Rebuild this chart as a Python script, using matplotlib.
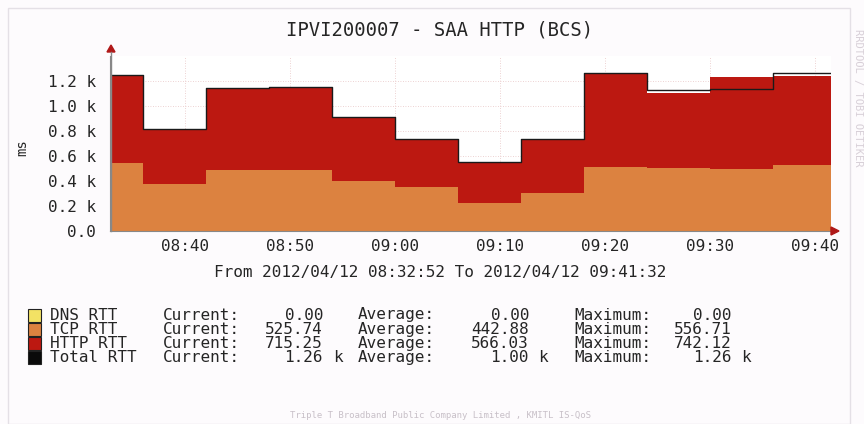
import matplotlib
matplotlib.use('Agg')
import matplotlib.pyplot as plt
import matplotlib.dates as mdates
from matplotlib.patches import Rectangle
import pandas as pd

# step start times (6 min RRD steps) and values in ms
step_times = ['08:32:52', '08:36:00', '08:42:00', '08:48:00', '08:54:00', '09:00:00',
              '09:06:00', '09:12:00', '09:18:00', '09:24:00', '09:30:00', '09:36:00']
end_time = '09:41:32'
tcp_rtt = [545, 373, 487, 487, 399, 354, 221, 306, 508, 500, 492, 526]
http_rtt = [700, 439, 652, 665, 513, 378, 327, 426, 742, 599, 735, 715]
total_rtt = [1245, 812, 1139, 1152, 912, 732, 548, 732, 1263, 1125, 1131, 1263]
dns_rtt = [0] * 12

y_ticks = [0, 200, 400, 600, 800, 1000, 1200]
y_labels = ['0.0', '0.2 k', '0.4 k', '0.6 k', '0.8 k', '1.0 k', '1.2 k']

legend_names = ['DNS RTT', 'TCP RTT', 'HTTP RTT', 'Total RTT']
legend_colors = ['#f3e264', '#dc8240', '#bc1811', '#0a0a0a']
cur_vals = ['0.00', '525.74', '715.25', '1.26']
avg_vals = ['0.00', '442.88', '566.03', '1.00']
max_vals = ['0.00', '556.71', '742.12', '1.26']
units = ['', '', '', 'k']

day = '2012-04-12 '
t = pd.to_datetime([day + s for s in step_times] + [day + end_time])

W, H = 864, 424
mono = 'DejaVu Sans Mono'
txt = '#252525'


def fp(x, y):
    return x / W, 1 - y / H


fig = plt.figure(figsize=(W / 100, H / 100), dpi=100, facecolor='#fdfbfd')
ax = fig.add_axes([110 / W, 1 - 231 / H, (831 - 110) / W, (231 - 55.6) / H])
ax.set_facecolor('white')

tcp = tcp_rtt + [tcp_rtt[-1]]
top = [a + b for a, b in zip(tcp_rtt, http_rtt)]
top = top + [top[-1]]
tot = total_rtt + [total_rtt[-1]]

ax.fill_between(t, 0, tcp, step='post', color=legend_colors[1], lw=0, zorder=2)
ax.fill_between(t, tcp, top, step='post', color=legend_colors[2], lw=0, zorder=2)
ax.step(t, tot, where='post', color='#1a1a1a', lw=1.0, zorder=3)

ax.set_xlim(t[0], t[-1])
ax.set_ylim(0, 1400)
ax.set_yticks(y_ticks)
ax.set_yticklabels(y_labels)
ax.xaxis.set_major_locator(mdates.MinuteLocator(byminute=[0, 10, 20, 30, 40, 50]))
ax.xaxis.set_major_formatter(mdates.DateFormatter('%H:%M'))
ax.tick_params(axis='both', length=0, labelsize=11.5, labelcolor=txt, pad=10)
for lab in ax.get_xticklabels() + ax.get_yticklabels():
    lab.set_fontfamily(mono)
ax.tick_params(axis='x', pad=6)

ax.grid(True, color='#e8c4c4', lw=0.6, ls=(0, (1, 2)), zorder=0)
ax.set_axisbelow(True)
for s in ['top', 'right']:
    ax.spines[s].set_visible(False)
ax.spines['left'].set_color('#888888')
ax.spines['bottom'].set_color('#888888')
ax.spines['left'].set_zorder(4)
ax.spines['bottom'].set_zorder(4)

# axis arrows
fig.patches.append(plt.Polygon([fp(107, 52), fp(115, 52), fp(111, 45)], closed=True,
                               color='#b01818', transform=fig.transFigure))
fig.patches.append(plt.Polygon([fp(831, 227), fp(831, 235), fp(839, 231)], closed=True,
                               color='#b01818', transform=fig.transFigure))
fig.add_artist(plt.Line2D([111 / W, 111 / W], [1 - 231 / H, 1 - 52 / H], color='#888888', lw=1))

fig.text(*fp(440, 30), 'IPVI200007 - SAA HTTP (BCS)', family=mono, fontsize=13.6,
         color=txt, ha='center', va='center')
fig.text(*fp(22, 148), 'ms', family=mono, fontsize=10, color=txt, rotation=90,
         ha='center', va='center')
fig.text(*fp(440, 273), 'From 2012/04/12 08:32:52 To 2012/04/12 09:41:32', family=mono,
         fontsize=11.5, color=txt, ha='center', va='center')

rows_y = [315, 329.3, 343.6, 357.9]
for i, y in enumerate(rows_y):
    fig.patches.append(Rectangle(fp(28, y + 6.5), 13 / W, 13 / H, facecolor=legend_colors[i],
                                 edgecolor='#222222', lw=0.8, transform=fig.transFigure))
    fig.text(*fp(50, y), legend_names[i], family=mono, fontsize=11.5, color=txt, va='center')
    fig.text(*fp(163, y), 'Current:', family=mono, fontsize=11.5, color=txt, va='center')
    fig.text(*fp(323, y), cur_vals[i], family=mono, fontsize=11.5, color=txt, va='center', ha='right')
    fig.text(*fp(358, y), 'Average:', family=mono, fontsize=11.5, color=txt, va='center')
    fig.text(*fp(529, y), avg_vals[i], family=mono, fontsize=11.5, color=txt, va='center', ha='right')
    fig.text(*fp(574, y), 'Maximum:', family=mono, fontsize=11.5, color=txt, va='center')
    fig.text(*fp(732, y), max_vals[i], family=mono, fontsize=11.5, color=txt, va='center', ha='right')
    if units[i]:
        for xx in (333, 538, 741):
            fig.text(*fp(xx, y), units[i], family=mono, fontsize=11.5, color=txt, va='center')

fig.text(*fp(440, 415), 'Triple T Broadband Public Company Limited , KMITL IS-QoS', family=mono,
         fontsize=6.5, color='#c8c0c8', ha='center', va='center')
fig.text(*fp(858, 98), 'RRDTOOL / TOBI OETIKER', family=mono, fontsize=7.5, color='#d8d0d8',
         rotation=-90, ha='center', va='center')

# faint outer frame
fig.add_artist(Rectangle(fp(8, 424), (850 - 8) / W, (424 - 8) / H, fill=False,
                         edgecolor='#e4e0e6', lw=1, transform=fig.transFigure))

fig.savefig('out.png', dpi=100, facecolor=fig.get_facecolor())
